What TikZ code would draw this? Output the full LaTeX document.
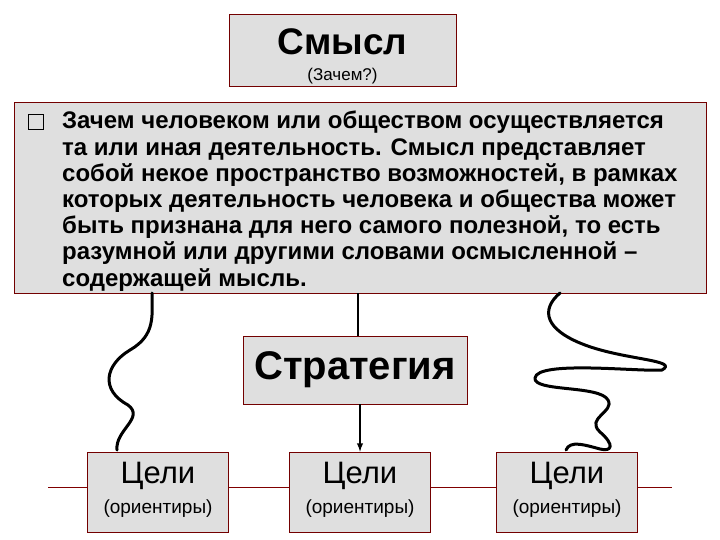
\documentclass[tikz,border=0pt]{standalone}
\usepackage{fontspec}
\setmainfont{Liberation Sans}
\begin{document}
\begin{tikzpicture}[x=1pt,y=-1pt,
  box/.style={draw=red!45!black,fill=gray!25,line width=0.8pt},
  wave/.style={line width=3pt,line cap=round,line join=round}]
\useasboundingbox[fill=white] (0,0) rectangle (720,540);
\draw[red!50!black,line width=0.8pt] (48,487) -- (672,487);
% boxes
\path[box] (229,14) rectangle (456,86);
\node[font=\bfseries\fontsize{37}{39}\selectfont] (smt) at (342.5,42) {Смысл};
\node[font=\fontsize{17}{19}\selectfont] (smq) at (342.5,76) {(Зачем?)};
\node[box,minimum width=692,minimum height=191,anchor=north west] (txt) at (14,102) {};
\node[draw,line width=1.5pt,minimum size=15,inner sep=0] (bul) at (36,122) {};
\node[anchor=north west,align=left,font=\bfseries\fontsize{24}{26.2}\selectfont,inner sep=0] (tt) at (62,111)
{Зачем человеком или обществом осуществляется\\та или иная деятельность. Смысл представляет\\собой некое пространство возможностей, в рамках\\которых деятельность человека и общества может\\быть признана для него самого полезной, то есть\\разумной или другими словами осмысленной –\\содержащей мысль.};
\node[box,minimum width=224,minimum height=68,font=\bfseries\fontsize{40}{42}\selectfont] (str) at (355,370) {Стратегия};
\foreach \i/\x in {1/158,2/360,3/567}{
  \node[box,minimum width=141,minimum height=80] (g\i) at (\x,492) {};
  \node[font=\fontsize{31}{33}\selectfont] (gt\i) at (\x,476) {Цели};
  \node[font=\fontsize{19}{21}\selectfont] (gs\i) at (\x,509) {(ориентиры)};
}
\coordinate (c1) at (358,293);
\draw[line width=1.8pt] (c1) -- (str.north -| c1);
\draw[line width=1.8pt,-{latex}] (str.south -| g2.north) -- (g2.north);
\coordinate (l0) at (152,293); \coordinate (r0) at (560,293);
\draw[wave] (l0) .. controls (152,315) and (156,335) .. (130,350)
  .. controls (105,365) and (100,390) .. (128,405)
  .. controls (145,418) and (115,430) .. (117,450);
\draw[wave] (r0) .. controls (540,310) and (545,330) .. (585,345)
  .. controls (625,360) and (680,360) .. (662,370)
  .. controls (640,372) and (537,360) .. (535,378)
  .. controls (533,392) and (600,385) .. (608,400)
  .. controls (615,412) and (585,418) .. (600,432)
  .. controls (615,445) and (612,452) .. (600,449)
  .. controls (585,445) and (570,440) .. (566,450);
\end{tikzpicture}
\end{document}
